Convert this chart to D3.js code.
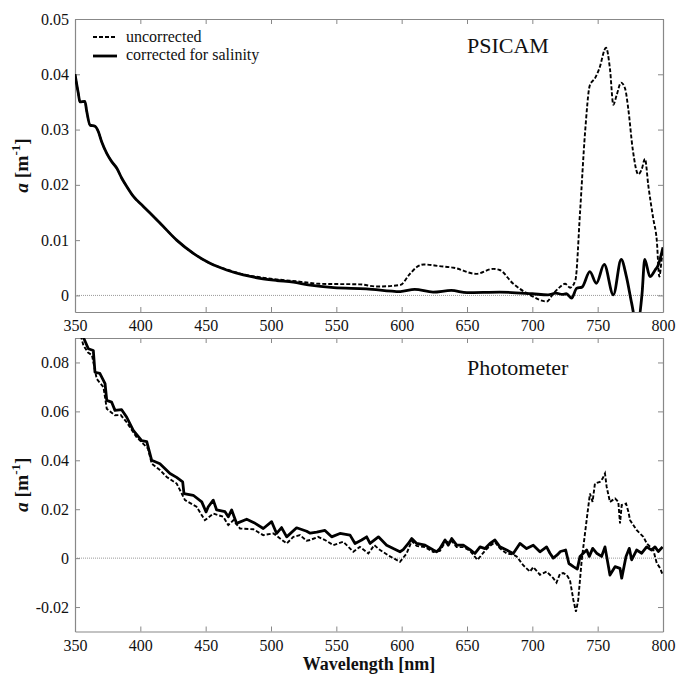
<!DOCTYPE html>
<html>
<head>
<meta charset="utf-8">
<script src="https://cdn.jsdelivr.net/npm/d3@7"></script>
<style>
  body { margin: 0; background: #fff; }
  svg text { font-family: "Liberation Serif", "Times New Roman", serif; fill: #111; }
</style>
</head>
<body>
<div id="chart"></div>
<script>
// ---- PSICAM (top panel) ----
var psicamCorrWl = [350, 352.5, 353.8, 357.6, 358.9, 361.5, 365.3, 367.9, 370.4, 374.3, 378.1, 382, 385.8, 389.6, 394.7, 402.3, 415, 427.8, 440.6, 453.3, 466, 478.8, 491.5, 504.3, 517.1, 528.5, 548, 573, 599, 610, 624, 638, 650, 675, 700, 712, 718, 723, 726, 730, 734, 738, 744, 749, 755, 762, 768, 772, 776, 780, 784, 786, 790, 794, 796, 800];
var psicamCorr = [0.040, 0.0366, 0.035, 0.0351, 0.0334, 0.0308, 0.0306, 0.0296, 0.0278, 0.0257, 0.0242, 0.023, 0.0212, 0.0197, 0.0179, 0.0161, 0.0131, 0.0100, 0.0076, 0.0058, 0.0046, 0.0037, 0.0031, 0.0027, 0.0024, 0.0019, 0.0014, 0.0012, 0.0007, 0.0011, 0.0006, 0.0009, 0.0005, 0.0006, 0.0003, 0.0001, 0.0004, 0.0002, 0.0003, -0.0005, 0.0013, 0.0015, 0.0043, 0.0022, 0.0056, 0.0001, 0.0065, 0.0034, -0.0014, -0.0055, 0.0004, 0.0065, 0.0034, 0.0046, 0.0053, 0.0087];

var psicamUncWl = [350, 352.5, 353.8, 357.6, 358.9, 361.5, 365.3, 367.9, 370.4, 374.3, 378.1, 382, 385.8, 389.6, 394.7, 402.3, 415, 427.8, 440.6, 453.3, 466, 478.8, 491.5, 504.3, 522, 537, 568, 581, 599, 606, 612, 617, 629, 640, 657, 670, 675, 685, 698, 711, 716, 721, 725, 729, 733, 736.5, 740.3, 744, 748, 751.2, 756.4, 759.4, 762, 764.5, 767.9, 771, 773.4, 776.8, 781.1, 783.7, 786.2, 788.8, 792.6, 795.2, 797.2, 799, 800];
var psicamUnc = [0.040, 0.0366, 0.035, 0.0351, 0.0334, 0.0308, 0.0306, 0.0296, 0.0278, 0.0257, 0.0242, 0.023, 0.0212, 0.0197, 0.0179, 0.0161, 0.0131, 0.0100, 0.0076, 0.0058, 0.0047, 0.0038, 0.0033, 0.0029, 0.0025, 0.0021, 0.0020, 0.0016, 0.0019, 0.0038, 0.0052, 0.0056, 0.0053, 0.0050, 0.0039, 0.0048, 0.0046, 0.0022, 0.0001, -0.0011, 0.0003, 0.0015, 0.0021, 0.0014, 0.0028, 0.0150, 0.0293, 0.0380, 0.0393, 0.0410, 0.0448, 0.0410, 0.0345, 0.0362, 0.0385, 0.0374, 0.0338, 0.0265, 0.0219, 0.0228, 0.0247, 0.0198, 0.0138, 0.0101, 0.0034, 0.0065, 0.0080];

// ---- Photometer (bottom panel) ----
var photoCorrWl = [350, 353, 356.9, 360.2, 364, 365.3, 369, 373, 374.3, 378, 380.6, 385.7, 389.5, 394.6, 401, 404.9, 408.7, 415, 422.7, 427.8, 432.4, 433.4, 440.5, 447, 450.3, 452, 455.8, 458.4, 464.8, 467.3, 469.9, 473.7, 481.4, 487, 494.1, 500.5, 504.3, 508.1, 512, 519.6, 527.3, 530, 535, 541.3, 546.4, 552.8, 560.5, 564.3, 569.4, 573.2, 575.8, 582.2, 588.5, 593.6, 598.7, 601.2, 605.1, 607.7, 611.5, 617.9, 624.2, 626.8, 629.3, 633.2, 635.7, 638.3, 642.1, 647.2, 652.3, 656.1, 660, 663.8, 667.6, 671.4, 675.2, 680.3, 685.4, 690.5, 695.6, 700.7, 705.8, 710.9, 713.5, 716, 719, 721.5, 725.5, 728, 731.4, 734.4, 736.5, 739, 741.6, 743.6, 746.2, 749.2, 753, 755.6, 759.4, 763.3, 767.1, 768.4, 771.7, 774.2, 776, 779.8, 783.7, 787.5, 791.3, 793.9, 796.4, 799.7];
var photoCorr = [0.105, 0.096, 0.0897, 0.0856, 0.0849, 0.076, 0.0755, 0.0713, 0.0645, 0.0638, 0.0604, 0.0607, 0.0577, 0.0522, 0.048, 0.0476, 0.040, 0.0386, 0.0346, 0.033, 0.0312, 0.0264, 0.0257, 0.023, 0.0189, 0.021, 0.0237, 0.0197, 0.019, 0.0169, 0.0197, 0.0142, 0.0159, 0.0145, 0.0121, 0.0149, 0.0101, 0.0125, 0.0087, 0.0124, 0.011, 0.0102, 0.0106, 0.0113, 0.0087, 0.0101, 0.0094, 0.006, 0.0074, 0.0087, 0.006, 0.0087, 0.0053, 0.0039, 0.0026, 0.0035, 0.006, 0.008, 0.006, 0.0053, 0.0033, 0.0026, 0.0039, 0.0074, 0.0053, 0.008, 0.0053, 0.0053, 0.0035, 0.0019, 0.0046, 0.0039, 0.006, 0.0074, 0.0046, 0.0033, 0.0019, 0.006, 0.0039, 0.0053, 0.0026, 0.0046, 0.002, 0.0, 0.0013, 0.0027, 0.0033, -0.0022, -0.0035, -0.0045, 0.0007, 0.002, 0.0033, 0.0007, 0.004, 0.002, 0.0007, 0.0046, -0.0069, -0.0035, -0.0042, -0.0082, 0.0007, 0.004, -0.0007, 0.0033, 0.002, 0.0046, 0.0033, 0.0046, 0.0027, 0.0046];

var photoUncWl = [350, 353, 356.4, 360, 363, 366.6, 371.8, 374.3, 380.6, 385, 389.5, 397.1, 405.9, 408.7, 415, 420.2, 427.8, 434.2, 443, 449.4, 455.8, 463.5, 467.3, 471.2, 476.3, 486.5, 494.1, 501.8, 512, 517.1, 522.2, 527.3, 529.9, 536, 541, 547.7, 555.3, 563, 568, 574.5, 579, 583.5, 591.1, 598.7, 603.8, 607.7, 611.5, 617.9, 624.2, 629.3, 633.2, 638.3, 642.1, 647.2, 652.3, 658, 663.8, 667.6, 671.4, 675.2, 680.3, 685, 688, 693, 698.2, 700.7, 705.8, 710.9, 716, 718.5, 721.1, 723.6, 726.2, 728.8, 731.4, 733.4, 735.1, 737.8, 740.3, 742.8, 744.1, 746.1, 747.9, 751.7, 753.7, 755.6, 756.9, 759.4, 763.3, 765.8, 767.1, 768.4, 771.7, 773.5, 774.8, 779.9, 785, 787.6, 792.6, 795.2, 797.7, 799.8];
var photoUnc = [0.103, 0.094, 0.087, 0.084, 0.083, 0.0733, 0.0699, 0.0611, 0.0584, 0.0585, 0.0556, 0.0495, 0.0448, 0.0386, 0.036, 0.0332, 0.0305, 0.0237, 0.021, 0.0155, 0.0182, 0.0169, 0.0135, 0.0155, 0.0121, 0.0118, 0.0094, 0.0101, 0.006, 0.0087, 0.0094, 0.0071, 0.0074, 0.0087, 0.0075, 0.0053, 0.0067, 0.0026, 0.0046, 0.0019, 0.0053, 0.0033, 0.0007, -0.0015, 0.0019, 0.007, 0.005, 0.0045, 0.0025, 0.003, 0.0065, 0.007, 0.0045, 0.0045, 0.003, -0.0007, 0.003, 0.005, 0.0065, 0.004, 0.0019, 0.0015, 0.0007, -0.0029, -0.0055, -0.0037, -0.0068, -0.0055, -0.0082, -0.010, -0.0065, -0.0061, -0.0068, -0.009, -0.0171, -0.0219, -0.0171, -0.0008, 0.0101, 0.0209, 0.0264, 0.023, 0.0305, 0.0312, 0.0325, 0.0346, 0.0291, 0.023, 0.0244, 0.023, 0.0142, 0.0217, 0.0223, 0.019, 0.0155, 0.0114, 0.0087, 0.006, 0.0033, -0.002, -0.004, -0.0069];

// axis ticks
var wlTicks = [350, 400, 450, 500, 550, 600, 650, 700, 750, 800];
var psicamTicks = [0, 0.01, 0.02, 0.03, 0.04, 0.05];
var photoTicks = [-0.02, 0, 0.02, 0.04, 0.06, 0.08];

var width = 676, height = 677;
var left = 75, right = 663;

var svg = d3.select("#chart").append("svg")
    .attr("width", width)
    .attr("height", height);

var x = d3.scaleLinear().domain([350, 800]).range([left, right]);

function fmt(d) { return d === 0 ? "0" : d.toFixed(2); }

function drawPanel(p) {
    var y = d3.scaleLinear().domain(p.domain).range([p.bottom, p.top]);
    var g = svg.append("g");

    // clip to the plot box
    svg.append("clipPath").attr("id", p.id)
        .append("rect")
        .attr("x", left).attr("y", p.top)
        .attr("width", right - left).attr("height", p.bottom - p.top);

    // zero reference line
    g.append("line")
        .attr("x1", left).attr("x2", right)
        .attr("y1", y(0)).attr("y2", y(0))
        .attr("stroke", "#999").attr("stroke-width", 1)
        .attr("stroke-dasharray", "1,1");

    // axes, ticks pointing inward
    var axB = g.append("g").attr("transform", "translate(0," + p.bottom + ")")
        .call(d3.axisBottom(x).tickValues(wlTicks).tickSizeInner(-5).tickSizeOuter(0).tickPadding(8));
    var axT = g.append("g").attr("transform", "translate(0," + p.top + ")")
        .call(d3.axisTop(x).tickValues(wlTicks).tickSizeInner(-5).tickSizeOuter(0).tickFormat(""));
    var axL = g.append("g").attr("transform", "translate(" + left + ",0)")
        .call(d3.axisLeft(y).tickValues(p.ticks).tickSizeInner(-5).tickSizeOuter(0).tickPadding(6).tickFormat(fmt));
    var axR = g.append("g").attr("transform", "translate(" + right + ",0)")
        .call(d3.axisRight(y).tickValues(p.ticks).tickSizeInner(-5).tickSizeOuter(0).tickFormat(""));

    [axB, axT, axL, axR].forEach(function(a) {
        a.attr("font-family", null);
        a.select(".domain").attr("stroke", "#888").attr("stroke-width", 1.2);
        a.selectAll(".tick line").attr("stroke", "#888");
        a.selectAll("text")
            .style("font-family", "'Liberation Serif', 'Times New Roman', serif")
            .style("font-size", "16px")
            .attr("fill", "#111");
    });

    var line = d3.line()
        .x(function(d) { return x(d[0]); })
        .y(function(d) { return y(d[1]); })
        .curve(p.curve);

    // uncorrected (dashed)
    g.append("path")
        .datum(d3.zip(p.uncWl, p.unc))
        .attr("clip-path", "url(#" + p.id + ")")
        .attr("d", line)
        .attr("fill", "none")
        .attr("stroke", "#000")
        .attr("stroke-width", 1.9)
        .attr("stroke-dasharray", "4,2");

    // corrected (solid)
    g.append("path")
        .datum(d3.zip(p.corrWl, p.corr))
        .attr("clip-path", "url(#" + p.id + ")")
        .attr("d", line)
        .attr("fill", "none")
        .attr("stroke", "#000")
        .attr("stroke-width", 2.8)
        .attr("stroke-linejoin", "round");

    // panel title
    g.append("text")
        .attr("x", 467).attr("y", p.top + p.titleDy)
        .attr("font-size", 22)
        .text(p.title);

    // y label
    var yl = g.append("text")
        .attr("transform", "translate(28," + ((p.top + p.bottom) / 2) + ") rotate(-90)")
        .attr("text-anchor", "middle")
        .attr("font-size", 19.5)
        .attr("font-weight", "bold");
    yl.append("tspan").attr("font-style", "italic").text("a");
    yl.append("tspan").text(" [m");
    yl.append("tspan").attr("dy", -8).attr("font-size", 13).text("-1");
    yl.append("tspan").attr("dy", 8).text("]");
}

drawPanel({
    id: "clipTop", top: 19, bottom: 312, domain: [-0.003, 0.05], ticks: psicamTicks,
    corrWl: psicamCorrWl, corr: psicamCorr, uncWl: psicamUncWl, unc: psicamUnc,
    curve: d3.curveMonotoneX, title: "PSICAM", titleDy: 34
});

drawPanel({
    id: "clipBottom", top: 338, bottom: 631.5, domain: [-0.03, 0.09], ticks: photoTicks,
    corrWl: photoCorrWl, corr: photoCorr, uncWl: photoUncWl, unc: photoUnc,
    curve: d3.curveLinear, title: "Photometer", titleDy: 37
});

// legend (top panel)
var legend = svg.append("g");
legend.append("line").attr("x1", 93).attr("x2", 117).attr("y1", 37).attr("y2", 37)
    .attr("stroke", "#000").attr("stroke-width", 1.9).attr("stroke-dasharray", "4,2");
legend.append("text").attr("x", 126).attr("y", 42).attr("font-size", 16).text("uncorrected");
legend.append("line").attr("x1", 93).attr("x2", 117).attr("y1", 56).attr("y2", 56)
    .attr("stroke", "#000").attr("stroke-width", 2.8);
legend.append("text").attr("x", 126).attr("y", 60).attr("font-size", 16).text("corrected for salinity");

// x label
svg.append("text")
    .attr("x", (left + right) / 2).attr("y", 670)
    .attr("text-anchor", "middle")
    .attr("font-size", 18)
    .attr("font-weight", "bold")
    .text("Wavelength [nm]");
</script>
</body>
</html>
